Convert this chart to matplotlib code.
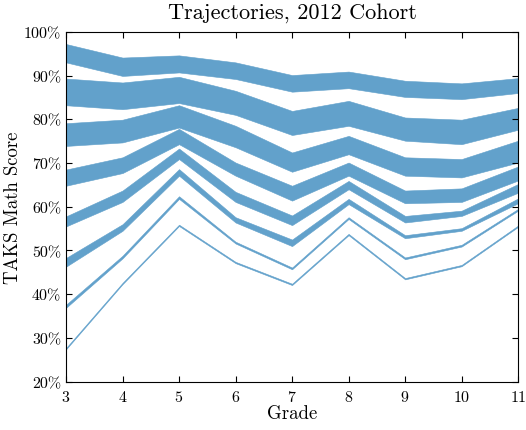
import matplotlib
matplotlib.use("Agg")
import matplotlib.pyplot as plt

plt.rcParams['font.family'] = 'cmr10'
plt.rcParams['mathtext.fontset'] = 'cm'
plt.rcParams['axes.formatter.use_mathtext'] = True

# Grades on the x axis
grades = [3, 4, 5, 6, 7, 8, 9, 10, 11]

# Band edges (lower, upper) in percent, top band first
band1_lo = [93.0, 89.9, 90.7, 89.2, 86.3, 87.1, 85.1, 84.6, 86.0]
band1_hi = [97.2, 94.1, 94.6, 93.0, 90.1, 90.9, 88.8, 88.2, 89.4]
band2_lo = [83.2, 82.3, 83.7, 81.0, 76.4, 78.5, 75.1, 74.3, 77.6]
band2_hi = [89.3, 88.4, 89.7, 86.5, 81.9, 84.2, 80.4, 79.9, 82.6]
band3_lo = [73.9, 74.7, 78.1, 73.6, 68.0, 72.0, 67.1, 66.7, 70.1]
band3_hi = [79.1, 79.9, 83.2, 78.5, 72.4, 76.2, 71.3, 70.9, 75.1]
band4_lo = [64.8, 67.7, 74.3, 67.1, 61.4, 67.1, 60.8, 61.1, 66.0]
band4_hi = [68.5, 71.3, 77.8, 70.1, 64.8, 70.1, 63.7, 64.2, 69.2]
band5_lo = [55.5, 61.1, 70.9, 61.1, 55.8, 64.0, 56.4, 57.9, 63.2]
band5_hi = [57.8, 63.7, 73.3, 63.4, 58.0, 65.9, 57.9, 59.1, 65.2]
band6_lo = [46.3, 54.5, 67.1, 56.4, 51.0, 60.6, 52.8, 54.5, 60.8]
band6_hi = [48.3, 56.0, 68.6, 57.6, 52.5, 61.8, 53.5, 55.1, 61.9]
band7_lo = [36.9, 48.2, 61.8, 51.6, 45.7, 57.2, 48.0, 50.9, 59.1]
band7_hi = [37.6, 48.8, 62.4, 52.0, 46.1, 57.6, 48.4, 51.3, 59.5]
band8_lo = [27.4, 42.3, 55.6, 47.1, 42.1, 53.5, 43.4, 46.4, 55.4]
band8_hi = [27.7, 42.6, 55.9, 47.4, 42.4, 53.8, 43.7, 46.7, 55.7]

bands = [(band1_lo, band1_hi), (band2_lo, band2_hi), (band3_lo, band3_hi),
         (band4_lo, band4_hi), (band5_lo, band5_hi), (band6_lo, band6_hi),
         (band7_lo, band7_hi), (band8_lo, band8_hi)]

yticks = [20, 30, 40, 50, 60, 70, 80, 90, 100]
ytick_labels = ["20%", "30%", "40%", "50%", "60%", "70%", "80%", "90%", "100%"]

color = '#62a1cb'

fig = plt.figure(figsize=(5.26, 4.31), dpi=100)
ax = fig.add_axes([0.1255, 0.112, 0.8595, 0.812])

for lo, hi in bands:
    ax.fill_between(grades, lo, hi, color=color, linewidth=0.4, edgecolor=color)

ax.set_xlim(3, 11)
ax.set_ylim(20, 100)
ax.set_xticks(grades)
ax.set_yticks(yticks)
ax.set_yticklabels(ytick_labels)
ax.tick_params(direction='in', top=True, right=True, length=4, labelsize=11.5)
ax.tick_params(axis='x', pad=5)

ax.set_xlabel("Grade", fontsize=13.5, labelpad=0)
ax.set_ylabel("TAKS Math Score", fontsize=13.5, labelpad=1.5)
ax.set_title("Trajectories, 2012 Cohort", fontsize=16, pad=10)

fig.savefig("out.png", dpi=100)
